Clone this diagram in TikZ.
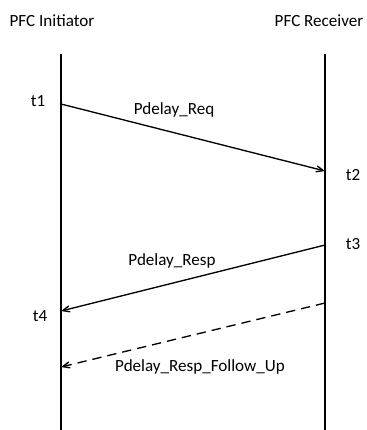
\documentclass[tikz,border=0pt]{standalone}
\usepackage{fontspec}
\setmainfont{Carlito}
\usetikzlibrary{arrows}

\begin{document}
\begin{tikzpicture}
  [x=0.75pt,y=-0.75pt,every node/.style={inner sep=1pt,font=\fontsize{12.8}{14}\selectfont}]

	\tikzset{
	life/.style = {line width=1pt},
	msg/.style = {line width=1pt,-angle 45},
	followup/.style = {msg,dash pattern=on 7pt off 4.5pt}
	}

  \useasboundingbox (0,0) rectangle (367,430);

  \node (ini) at (52,21) {PFC Initiator};
  \node (rec) at (319,21) {PFC Receiver};

  \coordinate (itop) at (61,54);
  \coordinate (ibot) at (61,430);
  \coordinate (rtop) at (325,54);
  \coordinate (rbot) at (325,430);

  \coordinate (i1) at (61,104);
  \coordinate (r2) at (325,171);
  \coordinate (r3) at (325,245);
  \coordinate (i4) at (61,311);
  \coordinate (r5) at (325,303);
  \coordinate (i6) at (61,367);

  \node (t1) at (38,101) {t1};
  \node (t2) at (353,175) {t2};
  \node (t3) at (353,244) {t3};
  \node (t4) at (40,316) {t4};

  \node (req) at (174,110) {Pdelay\_Req};
  \node (resp) at (172,261) {Pdelay\_Resp};
  \node (fup) at (200,367) {Pdelay\_Resp\_Follow\_Up};

  \foreach \from/\to in {itop/ibot,rtop/rbot}
    \draw[life] (\from) -- (\to);

  \foreach \from/\to in {i1/r2,r3/i4}
    \draw[msg] (\from) -- (\to);
  \draw[followup] (r5) -- (i6);

\end{tikzpicture}
\end{document}
